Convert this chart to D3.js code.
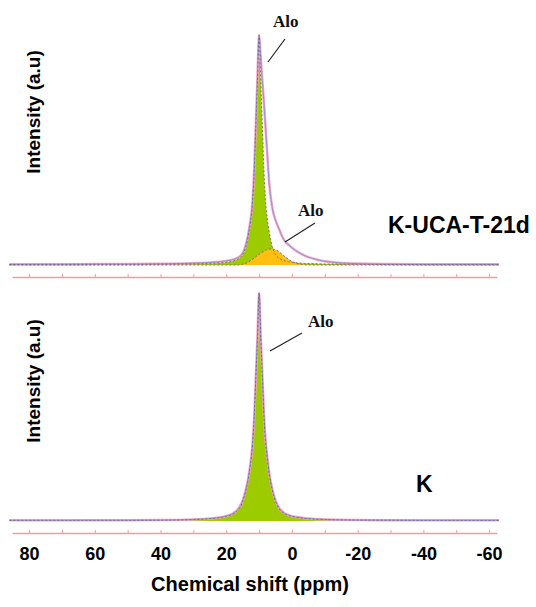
<!DOCTYPE html>
<html>
<head>
<meta charset="utf-8">
<script src="https://cdn.jsdelivr.net/npm/d3@7"></script>
<style>
  body { margin: 0; background: #fff; }
  text { font-family: Arial, "Liberation Sans", sans-serif; }
  text.alo { font-family: "Liberation Serif", "Times New Roman", serif; }
</style>
</head>
<body>
<svg id="chart" width="536" height="607"></svg>
<script>
// chemical shift grid (ppm) shared by all curves
var ppm = [86, 70, 60, 50, 40, 30, 25, 20, 17, 15, 14, 13, 12, 11.5, 11, 10.5, 10, 9.5, 9, 8.5, 8, 7.5, 7, 6, 5, 4, 3, 2, 1, 0, -2, -4, -6, -8, -10, -14, -20, -30, -40, -50, -63];

// K-UCA-T-21d : fitted components + measured envelope (a.u., peak = 100)
var topAlo1 = [0.2, 0.3, 0.3, 0.3, 0.35, 0.5, 0.7, 1.2, 2.2, 4.5, 8, 15, 27, 40, 60, 80, 100, 80, 60, 40, 27, 20, 15, 8, 4.5, 3, 2.2, 1.7, 1.4, 1.2, 0.9, 0.7, 0.6, 0.5, 0.45, 0.4, 0.3, 0.2, 0.2, 0.2, 0.2];
var topAlo2 = [0, 0, 0, 0, 0, 0, 0, 0, 0, 0.3, 0.8, 1.5, 2.5, 3, 3.6, 4.2, 4.7, 5.2, 5.6, 6, 6.4, 6.7, 6.9, 7, 6.6, 5.8, 4.7, 3.5, 2.4, 1.5, 0.5, 0.1, 0, 0, 0, 0, 0, 0, 0, 0, 0];
var topEnv = [0.3, 0.3, 0.4, 0.4, 0.5, 0.8, 1.1, 1.8, 2.8, 5.2, 9, 16, 28, 41, 61, 82, 100, 90, 80, 70, 59, 48, 37, 25, 19.5, 16, 12.5, 10, 8.8, 7.5, 5.5, 4, 3, 2.2, 1.6, 1, 0.6, 0.4, 0.3, 0.3, 0.3];

// K : single component + envelope
var botAlo1 = [0.3, 0.3, 0.3, 0.3, 0.35, 0.6, 1, 2, 4, 8.5, 13.5, 21, 34, 45, 63, 80, 100, 80, 63, 45, 34, 27, 21, 13.5, 8.5, 5.5, 4, 3, 2.4, 2, 1.5, 1.1, 0.9, 0.7, 0.6, 0.5, 0.4, 0.35, 0.3, 0.3, 0.3];
var botEnv = [0.3, 0.3, 0.35, 0.35, 0.4, 0.7, 1.1, 2.2, 4.3, 9, 14, 21.5, 34, 45, 63, 81, 100, 81, 64, 46, 35, 28, 22, 14, 9, 6, 4.3, 3.2, 2.6, 2.1, 1.6, 1.2, 1, 0.8, 0.7, 0.5, 0.4, 0.35, 0.3, 0.3, 0.3];

var tickVals = [80, 70, 60, 50, 40, 30, 20, 10, 0, -10, -20, -30, -40, -50, -60];
var labelVals = [80, 60, 40, 20, 0, -20, -40, -60];

var svg = d3.select("#chart");

var x = d3.scaleLinear().domain([85.2, -62.4]).range([12, 497]);

var panels = [
  { name: "K-UCA-T-21d", base: 265, top: 35, axisY: 277, comps: [topAlo1, topAlo2], env: topEnv,
    labelX: 388, labelY: 233, yLabelY: 112 },
  { name: "K", base: 521, top: 293, axisY: 533, comps: [botAlo1], env: botEnv,
    labelX: 416, labelY: 492, yLabelY: 381 }
];
var compColors = ["#9ccc00", "#ffbf10"];

panels.forEach(function(p) {
  var y = d3.scaleLinear().domain([0, 100]).range([p.base, p.top]);

  var area = d3.area()
    .x(function(d, i) { return x(ppm[i]); })
    .y0(y(0))
    .y1(function(d) { return y(d); })
    .curve(d3.curveMonotoneX);

  var line = d3.line()
    .x(function(d, i) { return x(ppm[i]); })
    .y(function(d) { return y(d); })
    .curve(d3.curveMonotoneX);

  // filled fit components
  p.comps.forEach(function(c, i) {
    svg.append("path").datum(c)
      .attr("d", area)
      .attr("fill", compColors[i]);
  });

  // envelope (pink + purple)
  svg.append("path").datum(p.env)
    .attr("d", line)
    .attr("fill", "none")
    .attr("stroke", "#f0aac8")
    .attr("stroke-width", 2.5);
  svg.append("path").datum(p.env)
    .attr("d", line)
    .attr("fill", "none")
    .attr("stroke", "#9d90cf")
    .attr("stroke-width", 1);

  // dashed outline of component fits
  p.comps.forEach(function(c) {
    svg.append("path").datum(c)
      .attr("d", line)
      .attr("fill", "none")
      .attr("stroke", "#7a6378")
      .attr("stroke-width", 0.9)
      .attr("stroke-dasharray", "2,2");
  });

  // axis line with small ticks
  var ax = svg.append("g")
    .attr("transform", "translate(0," + p.axisY + ")")
    .call(d3.axisTop(x).tickValues(tickVals).tickSize(3).tickSizeOuter(0).tickFormat(""));
  ax.select(".domain").attr("stroke", "#f49a9a").attr("stroke-width", 1.5);
  ax.selectAll(".tick line").attr("stroke", "#f49a9a");

  // y axis title
  svg.append("text")
    .attr("transform", "translate(40," + p.yLabelY + ") rotate(-90)")
    .attr("text-anchor", "middle")
    .attr("font-size", 19)
    .attr("font-weight", "bold")
    .text("Intensity (a.u)");

  // sample name
  svg.append("text")
    .attr("x", p.labelX)
    .attr("y", p.labelY)
    .attr("font-size", 23)
    .attr("font-weight", "bold")
    .text(p.name);
});

// bottom tick labels
var lab = svg.append("g")
  .attr("transform", "translate(0,533)")
  .call(d3.axisBottom(x).tickValues(labelVals).tickSize(0).tickFormat(function(d) { return d; }));
lab.select(".domain").remove();
lab.selectAll("text")
  .attr("y", 27)
  .attr("dy", 0)
  .attr("font-size", 18)
  .attr("font-weight", "bold")
  .attr("fill", "#000");

svg.append("text")
  .attr("x", 250)
  .attr("y", 591)
  .attr("text-anchor", "middle")
  .attr("font-size", 20)
  .attr("font-weight", "bold")
  .text("Chemical shift (ppm)");

// "Alo" annotations with leader lines
var notes = [
  { x: 273, y: 27, x1: 285, y1: 39, x2: 268, y2: 62 },
  { x: 298, y: 216, x1: 315, y1: 223, x2: 285, y2: 242 },
  { x: 308, y: 327, x1: 302, y1: 333, x2: 270, y2: 351 }
];
notes.forEach(function(n) {
  svg.append("text")
    .attr("class", "alo")
    .attr("x", n.x)
    .attr("y", n.y)
    .attr("font-size", 17)
    .attr("font-weight", "bold")
    .attr("fill", "#111")
    .text("Alo");
  svg.append("line")
    .attr("x1", n.x1).attr("y1", n.y1)
    .attr("x2", n.x2).attr("y2", n.y2)
    .attr("stroke", "#222")
    .attr("stroke-width", 1.2);
});
</script>
</body>
</html>
